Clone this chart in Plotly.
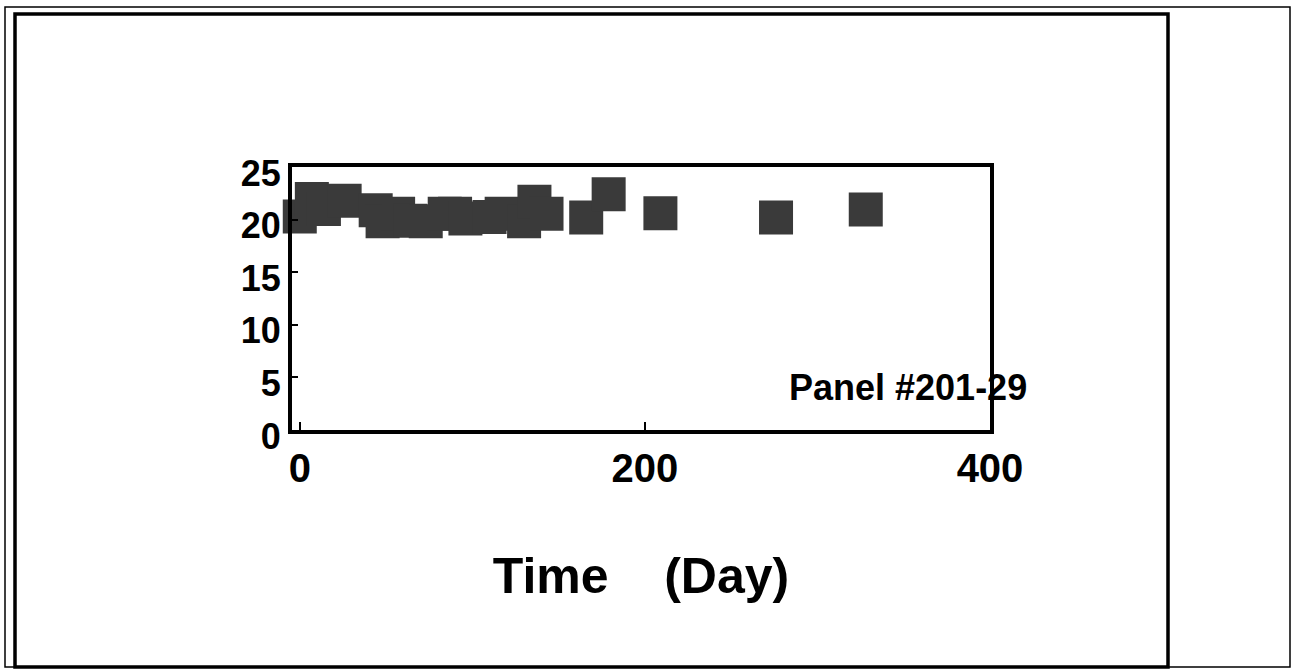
import plotly.graph_objects as go

# ---- data ----
days = [0, 7, 14, 26, 44, 48, 57, 64, 73, 84, 90, 96, 110, 117, 130, 136, 143, 166, 179, 209, 276, 328]
values = [20.3, 21.95, 21.0, 21.8, 20.9, 19.85, 20.55, 19.9, 19.85, 20.55, 20.55, 20.1, 20.25, 20.55,
          19.85, 21.7, 20.55, 20.2, 22.4, 20.6, 20.2, 20.95]
x_ticks = [0, 200, 400]
y_ticks = [0, 5, 10, 15, 20, 25]
panel_label = "Panel #201-29"
x_title = "Time\u00a0\u00a0\u00a0\u00a0(Day)"

# ---- layout geometry (pixels) ----
W, H = 1294, 669
L, R, T, B = 292, 990, 167, 430
pw, ph = R - L, B - T


def px(xp):
    return (xp - L) / pw


def py(yp):
    return (B - yp) / ph


FONT = "Liberation Sans, Arial, sans-serif"

fig = go.Figure()
fig.add_trace(go.Scatter(
    x=days, y=values, mode="markers",
    marker=dict(symbol="square", size=34, color="#3a3a3a", line=dict(width=0)),
    cliponaxis=False, showlegend=False,
))

fig.update_layout(
    width=W, height=H, autosize=False,
    margin=dict(l=L, r=W - R, t=T, b=H - B, pad=0),
    paper_bgcolor="white", plot_bgcolor="white",
    xaxis=dict(
        range=[-4.5, 400], tickvals=x_ticks, ticktext=[str(v) for v in x_ticks],
        showgrid=False, zeroline=False,
        showline=True, mirror=True, linecolor="black", linewidth=4,
        ticks="inside", ticklen=8, tickwidth=2, tickcolor="black",
        tickfont=dict(family=FONT, size=40, color="black", weight="bold"),
        ticklabelstandoff=0,
        title=dict(text=x_title, font=dict(family=FONT, size=50, color="black", weight="bold"),
                   standoff=70),
    ),
    yaxis=dict(
        range=[0, 25], tickvals=y_ticks, ticktext=[str(v) for v in y_ticks],
        showgrid=False, zeroline=False,
        showline=True, mirror=True, linecolor="black", linewidth=4,
        ticks="inside", ticklen=6, tickwidth=2, tickcolor="black",
        tickfont=dict(family=FONT, size=36, color="black", weight="bold"),
        ticklabelstandoff=0, ticklabelshift=6,
    ),
    shapes=[
        dict(type="rect", xref="paper", yref="paper",
             x0=px(5), x1=px(1290), y0=py(667), y1=py(7),
             line=dict(color="black", width=1.5), fillcolor="rgba(0,0,0,0)", layer="below"),
        dict(type="rect", xref="paper", yref="paper",
             x0=px(15), x1=px(1168), y0=py(667), y1=py(14),
             line=dict(color="black", width=3.5), fillcolor="rgba(0,0,0,0)", layer="below"),
    ],
    annotations=[
        dict(text=panel_label, xref="paper", yref="paper", x=px(787), y=py(387),
             xanchor="left", yanchor="middle", showarrow=False,
             font=dict(family=FONT, size=36, color="black", weight="bold")),
    ],
)

fig.write_html("out.html", config={"displayModeBar": False},
               post_script="document.body.style.margin='0';")
